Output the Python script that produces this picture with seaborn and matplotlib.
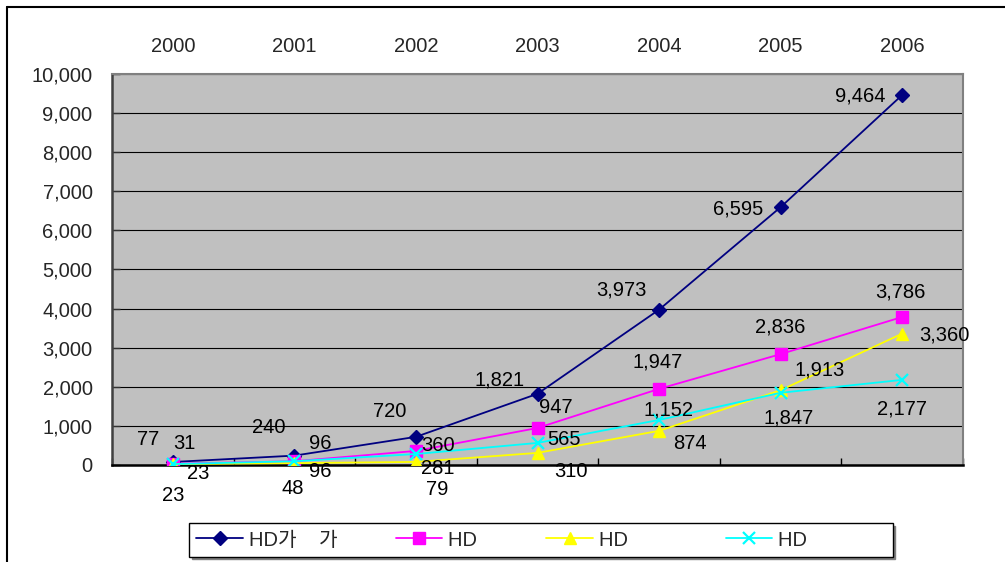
import numpy as np
import pandas as pd
import matplotlib
matplotlib.use("Agg")
import matplotlib.pyplot as plt
from matplotlib.lines import Line2D
from matplotlib.ticker import FuncFormatter, FixedLocator
import seaborn as sns

# ---- data -------------------------------------------------------------
years = ["2000", "2001", "2002", "2003", "2004", "2005", "2006"]
series_keys = ["s1", "s2", "s3", "s4"]
legend_labels = ["HD가    가", "HD", "HD", "HD"]
s1_values = [77, 240, 720, 1821, 3973, 6595, 9464]
s2_values = [31, 96, 360, 947, 1947, 2836, 3786]
s3_values = [23, 48, 79, 310, 874, 1913, 3360]
s4_values = [23, 96, 281, 565, 1152, 1847, 2177]
y_ticks = list(range(0, 10001, 1000))

# ---- styles -----------------------------------------------------------
colors = {"s1": "#000080", "s2": "#FF00FF", "s3": "#FFFF00", "s4": "#00FFFF"}
markers = {"s1": "D", "s2": "s", "s3": "^", "s4": "x"}
marker_sizes = {"s1": 7, "s2": 8.5, "s3": 9, "s4": 9}
# value-label offsets (pixels, x right / y up) for each point of each series
label_offsets = {
    "s1": [(-25, 22), (-26, 28), (-26, 25), (-38, 14), (-38, 20), (-43, -2), (-42, -1)],
    "s2": [(12, 20), (26, 18), (22, 5), (18, 20), (-1, 27), (0, 27), (-2, 25)],
    "s3": [(0, -31), (-2, -25), (21, -28), (33, -19), (31, -13), (39, 20), (42, -1)],
    "s4": [(25, -9), (26, -10), (22, -14), (26, 3), (9, 10), (8, -25), (0, -29)],
}
# trailing padding that spreads the legend columns across the box
legend_padding = [5, 7, 12, 14]

sns.set_style("white")
plt.rcParams["font.family"] = ["Liberation Sans", "Noto Sans CJK KR"]
FS = 14.5

values = {"s1": s1_values, "s2": s2_values, "s3": s3_values, "s4": s4_values}

fig = plt.figure(figsize=(10.05, 5.62), dpi=100)
ax = fig.add_axes([112 / 1005, 97 / 562, 851 / 1005, 391 / 562])
ax.set_facecolor("#C0C0C0")

line_styles = {}
for k in series_keys:
    df = pd.DataFrame({"x": range(len(years)), "value": values[k]})
    mew = 1.6 if k == "s4" else 1.0
    style = dict(color=colors[k], marker=markers[k], markersize=marker_sizes[k],
                 markeredgecolor=colors[k], markerfacecolor=colors[k],
                 markeredgewidth=mew, linewidth=1.3)
    line_styles[k] = style
    sns.lineplot(data=df, x="x", y="value", ax=ax, zorder=3, **style)

# value labels
for k in series_keys:
    for i, v in enumerate(values[k]):
        dx, dy = label_offsets[k][i]
        ax.annotate(f"{v:,}", (i, v), xytext=(dx, dy), textcoords="offset pixels",
                    ha="center", va="center", fontsize=FS, color="black", zorder=5)

# axes
ax.set_xlim(-0.5, 6.5)
ax.set_ylim(0, 10000)
ax.set_xlabel("")
ax.set_ylabel("")
ax.set_xticks(range(len(years)))
ax.set_xticklabels(years)
ax.xaxis.set_minor_locator(FixedLocator(np.arange(-0.5, 7, 1.0)))
ax.tick_params(axis="x", which="major", top=False, bottom=False,
               labeltop=True, labelbottom=False, labelsize=FS, pad=13, length=0)
ax.tick_params(axis="x", which="minor", bottom=True, top=False,
               direction="in", length=5, width=1, color="black")
ax.set_yticks(y_ticks)
ax.yaxis.set_major_formatter(FuncFormatter(lambda v, p: f"{int(v):,}"))
ax.tick_params(axis="y", which="major", left=True, direction="in", length=6,
               width=1, color="#333333", labelsize=FS, pad=14)
ax.grid(axis="y", color="black", linewidth=0.8, zorder=1)
ax.grid(axis="x", visible=False)
ax.set_axisbelow(True)

for side in ["top", "right"]:
    ax.spines[side].set_color("#808080")
    ax.spines[side].set_linewidth(1.5)
ax.spines["left"].set_color("#404040")
ax.spines["left"].set_linewidth(1.8)
ax.spines["bottom"].set_color("black")
ax.spines["bottom"].set_linewidth(1.8)

# legend
handles = [Line2D([], [], **line_styles[k]) for k in series_keys]
pad_labels = [lab + " " * n for lab, n in zip(legend_labels, legend_padding)]
leg = fig.legend(handles, pad_labels, ncol=4, loc="center",
                 bbox_to_anchor=(541 / 1005, 1 - 540 / 562),
                 fontsize=FS, frameon=True, fancybox=False,
                 handlelength=2.3, handletextpad=0.3, columnspacing=1.5,
                 borderpad=0.35, borderaxespad=0,
                 shadow={"color": "#808080", "alpha": 1.0})
leg.get_frame().set_edgecolor("black")
leg.get_frame().set_linewidth(1.0)

# outer chart border (top and left edges)
fig.add_artist(Line2D([7 / 1005, 1.0], [1 - 7 / 562, 1 - 7 / 562],
                      transform=fig.transFigure, color="black", linewidth=1.5))
fig.add_artist(Line2D([7 / 1005, 7 / 1005], [0.0, 1 - 7 / 562],
                      transform=fig.transFigure, color="black", linewidth=1.5))

fig.savefig("out.png", dpi=100)
